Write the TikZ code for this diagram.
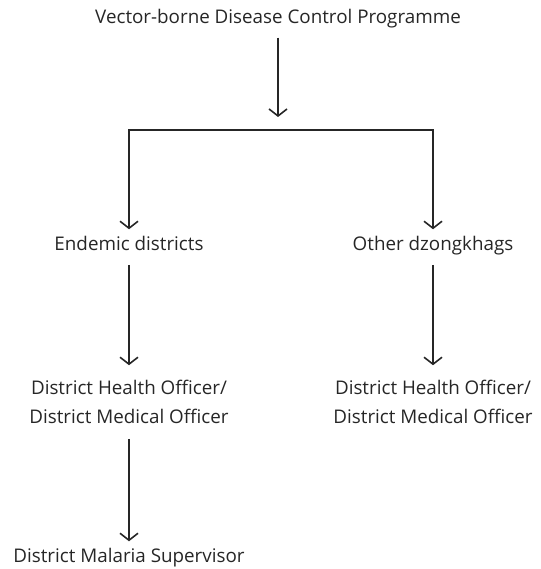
\documentclass[tikz,border=0pt]{standalone}
\usepackage{fontspec}
\setmainfont{Open Sans}
\usetikzlibrary{arrows.meta}
\tikzset{
  lbl/.style={font=\fontsize{18.8}{29}\selectfont, align=center, inner sep=0pt, outer ysep=15pt, text=black!85},
  sgl/.style={lbl, outer ysep=12pt, text height=0.9em, text depth=0.25em},
  arr/.style={draw=black!85, line width=1.6pt, -{Straight Barb[length=7pt,width=18pt,line width=1.6pt]}},
}
\begin{document}
\begin{tikzpicture}[x=1pt,y=-1pt]
\useasboundingbox (0,0) rectangle (540,569);
% top level
\node[sgl] (vbdcp) at (278,20) {Vector-borne Disease Control Programme};
\coordinate (split) at (278,130);
\draw[arr, shorten >=13pt] (vbdcp) -- (split);
% two kinds of districts
\node[sgl] (endemic) at (129,247) {Endemic districts};
\node[sgl] (other) at (433,247) {Other dzongkhags};
\draw[arr] (split) -| (endemic);
\draw[arr] (split) -| (other);
% officers
\node[lbl] (dhoL) at (129,402) {District Health Officer/\\District Medical Officer};
\node[lbl] (dhoR) at (433,402) {District Health Officer/\\District Medical Officer};
\draw[arr] (endemic) -- (dhoL);
\draw[arr] (other) -- (dhoR);
% supervisor
\node[sgl] (dms) at (129,559) {District Malaria Supervisor};
\draw[arr] (dhoL) -- (dms);
\end{tikzpicture}
\end{document}
